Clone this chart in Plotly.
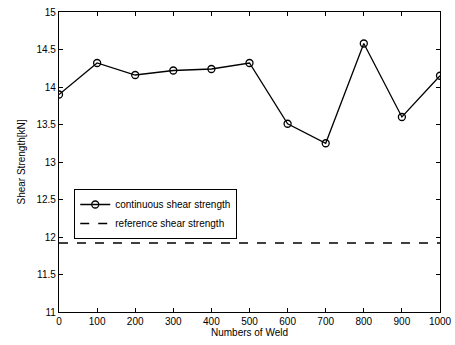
import plotly.graph_objects as go

welds = [0, 100, 200, 300, 400, 500, 600, 700, 800, 900, 1000]
strength = [13.90, 14.32, 14.16, 14.22, 14.24, 14.32, 13.51, 13.25, 14.58, 13.60, 14.15]
reference_value = 11.92
x_ticks = [0, 100, 200, 300, 400, 500, 600, 700, 800, 900, 1000]
y_ticks = [11, 11.5, 12, 12.5, 13, 13.5, 14, 14.5, 15]

fig = go.Figure()
fig.add_trace(go.Scatter(
    x=welds, y=strength, mode="lines+markers", name="continuous shear strength",
    line=dict(color="black", width=1.3),
    marker=dict(symbol="circle-open", size=7, color="black", line=dict(width=1.3)),
))
fig.add_trace(go.Scatter(
    x=[x_ticks[0], x_ticks[-1]], y=[reference_value, reference_value], mode="lines",
    name="reference shear strength",
    line=dict(color="black", width=1.3, dash="dash"),
))

axis_common = dict(
    showgrid=False, zeroline=False, showline=True, linecolor="black", linewidth=1.3,
    mirror="ticks", ticks="inside", ticklen=4, tickcolor="black",
    ticklabeloverflow="allow", automargin=False,
    tickfont=dict(family="Liberation Sans, Arial", size=10, color="black"),
)
fig.update_xaxes(range=[0, 1000], tickvals=x_ticks, ticktext=[str(v) for v in x_ticks],
                 title=dict(text="Numbers of Weld", standoff=2,
                            font=dict(family="Liberation Sans, Arial", size=10, color="black")),
                 **axis_common)
fig.update_yaxes(range=[11, 15], tickvals=y_ticks, ticktext=[f"{v:g}" for v in y_ticks],
                 title=dict(text="Shear Strength[kN]", standoff=8,
                            font=dict(family="Liberation Sans, Arial", size=10, color="black")),
                 **axis_common)

fig.update_layout(
    width=455, height=345,
    margin=dict(l=59, r=15, t=12, b=33),
    plot_bgcolor="white", paper_bgcolor="white",
    showlegend=True,
    legend=dict(x=0.04, y=0.41, xanchor="left", yanchor="top",
                bgcolor="white", bordercolor="black", borderwidth=1,
                font=dict(family="Liberation Sans, Arial", size=10, color="black"),
                tracegroupgap=0, itemwidth=30),
)

fig.write_html("out.html")
